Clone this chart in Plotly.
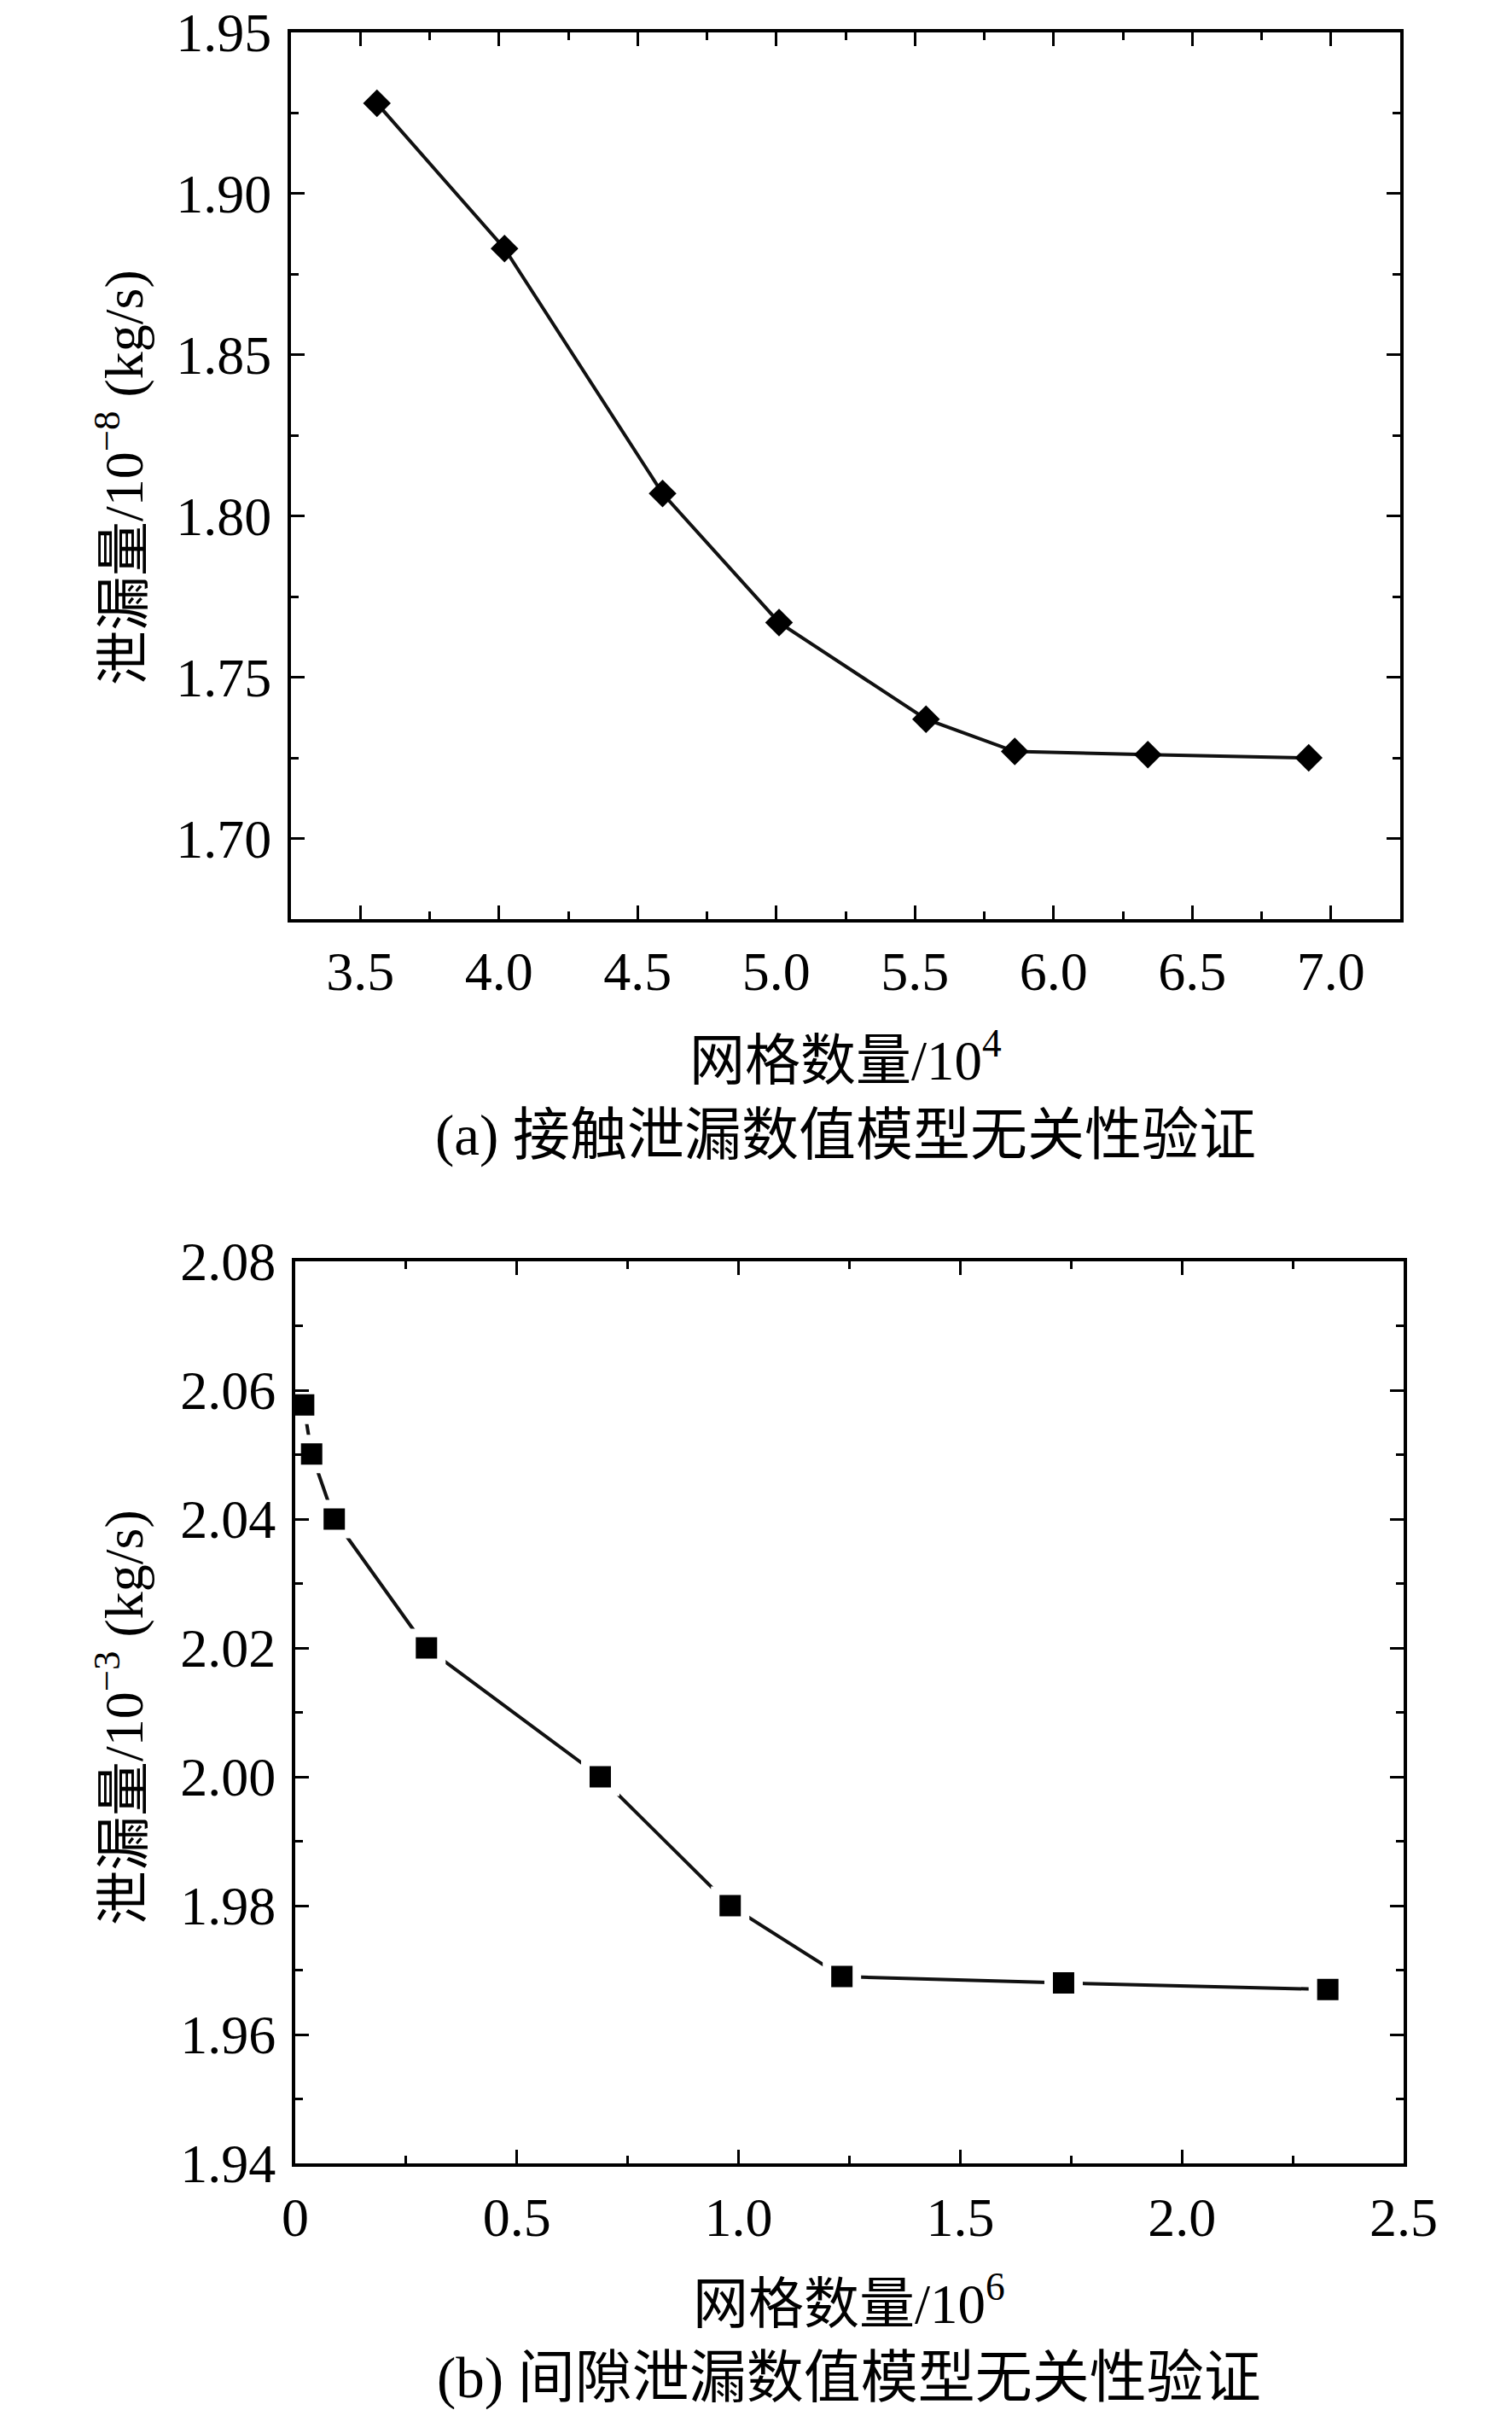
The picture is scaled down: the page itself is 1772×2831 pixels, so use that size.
import plotly.graph_objects as go

# ---- data: (a) contact leakage ----
a_mesh = [3.56, 4.02, 4.59, 5.01, 5.54, 5.86, 6.34, 6.92]          # 10^4
a_leak = [1.928, 1.883, 1.807, 1.767, 1.737, 1.727, 1.726, 1.725]   # 10^-8 kg/s
a_xticks = [3.5, 4.0, 4.5, 5.0, 5.5, 6.0, 6.5, 7.0]
a_xlabels = ["3.5", "4.0", "4.5", "5.0", "5.5", "6.0", "6.5", "7.0"]
a_yticks = [1.70, 1.75, 1.80, 1.85, 1.90, 1.95]
a_ylabels = ["1.70", "1.75", "1.80", "1.85", "1.90", "1.95"]

# ---- data: (b) clearance leakage ----
b_mesh = [0.019, 0.037, 0.088, 0.296, 0.688, 0.981, 1.233, 1.733, 2.329]  # 10^6
b_leak = [2.0577, 2.0501, 2.040, 2.020, 2.000, 1.980, 1.969, 1.968, 1.967]  # 10^-3 kg/s
b_xticks = [0, 0.5, 1.0, 1.5, 2.0, 2.5]
b_xlabels = ["0", "0.5", "1.0", "1.5", "2.0", "2.5"]
b_yticks = [1.94, 1.96, 1.98, 2.00, 2.02, 2.04, 2.06, 2.08]
b_ylabels = ["1.94", "1.96", "1.98", "2.00", "2.02", "2.04", "2.06", "2.08"]

# page is 1772x2831; the HTML body has an 8px margin, so the figure is 16px smaller
PAGE_W, PAGE_H, BODY = 1772, 2831, 8
W, H = PAGE_W - 2 * BODY, PAGE_H - 2 * BODY
FONT = "Liberation Serif, Noto Sans CJK SC, serif"
FS = 64

fig = go.Figure()
fig.add_trace(go.Scatter(
    x=a_mesh, y=a_leak, mode="lines+markers", xaxis="x", yaxis="y",
    line=dict(color="#111111", width=4),
    marker=dict(symbol="diamond", size=25, color="#000000"),
    showlegend=False, cliponaxis=False))
fig.add_trace(go.Scatter(
    x=b_mesh, y=b_leak, mode="lines+markers", xaxis="x2", yaxis="y2",
    line=dict(color="#111111", width=4),
    marker=dict(symbol="square", size=35, color="#000000",
                line=dict(color="#ffffff", width=10)),
    showlegend=False, cliponaxis=False))

def px_y(p):
    return 1 - (p - BODY) / H

def px_x(p):
    return (p - BODY) / W

common = dict(showline=True, linecolor="#000000", linewidth=4, mirror="allticks",
              ticks="inside", ticklen=16, tickwidth=3, tickcolor="#000000",
              showgrid=False, zeroline=False, layer="above traces", automargin=False,
              ticklabeloverflow="allow",
              tickfont=dict(family=FONT, size=FS, color="#000000"))

def minor(t0, dt):
    return dict(tickmode="linear", tick0=t0, dtick=dt, ticks="inside",
                ticklen=9, tickwidth=3, tickcolor="#000000")

fig.update_layout(
    width=W, height=H, margin=dict(l=0, r=0, t=0, b=0, pad=0, autoexpand=False),
    showlegend=False,
    paper_bgcolor="white", plot_bgcolor="white",
    font=dict(family=FONT, size=FS, color="#000000"),
    xaxis=dict(domain=[px_x(341), px_x(1641)], range=[3.25, 7.25], anchor="y",
               tickmode="array", tickvals=a_xticks, ticktext=a_xlabels,
               ticklabelstandoff=2, minor=minor(3.25, 0.25), **common),
    yaxis=dict(domain=[px_y(1077), px_y(38)], range=[1.675, 1.95], anchor="x",
               tickmode="array", tickvals=a_yticks, ticktext=a_ylabels,
               ticklabelstandoff=6, minor=minor(1.675, 0.025), **common),
    xaxis2=dict(domain=[px_x(346), px_x(1645)], range=[0, 2.5], anchor="y2",
                tickmode="array", tickvals=b_xticks, ticktext=b_xlabels,
                ticklabelstandoff=4, minor=minor(0, 0.25), **common),
    yaxis2=dict(domain=[px_y(2535), px_y(1478)], range=[1.94, 2.08], anchor="x2",
                tickmode="array", tickvals=b_yticks, ticktext=b_ylabels,
                ticklabelstandoff=6, minor=minor(1.94, 0.01), **common),
)

ann = [
    ("网格数量/10<sup>4</sup>", 991, 1238, 0, 65),
    ("(a) 接触泄漏数值模型无关性验证", 991, 1330, 0, 67),
    ("泄漏量/10<sup>−8</sup> (kg/s)", 140, 560, -90, 64),
    ("网格数量/10<sup>6</sup>", 995, 2695, 0, 65),
    ("(b) 间隙泄漏数值模型无关性验证", 995, 2786, 0, 67),
    ("泄漏量/10<sup>−3</sup> (kg/s)", 140, 2013, -90, 64),
]
for text, x, y, ang, fs in ann:
    fig.add_annotation(text=text, x=px_x(x), y=px_y(y), xref="paper", yref="paper",
                       showarrow=False, textangle=ang, xanchor="center", yanchor="middle",
                       font=dict(family=FONT, size=fs, color="#000000"))

fig.write_html("out.html")
